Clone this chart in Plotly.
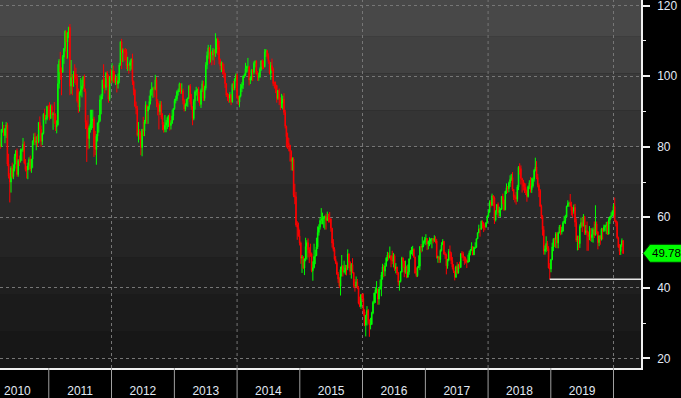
import pandas as pd
import plotly.graph_objects as go

# ---------------- data: weekly WTI crude OHLC ----------------
start_week = "2010-03-24"

opens = [
 # 2010
 80.7,80.0,84.9,84.9,83.2,85.1,86.2,75.1,71.6,70.0,74.0,71.5,73.8,77.2,78.9,72.1,76.1,76.0,79.0,79.0,80.7,75.4,73.5,73.4,74.6,76.4,73.7,76.5,81.6,82.7,81.2,81.7,81.4,86.9,84.9,81.5,83.8,89.2,87.8,88.0,91.5,
 # 2011
 91.4,88.0,91.5,89.1,89.3,89.0,85.6,86.2,97.9,104.4,101.2,101.1,105.4,107.9,112.8,109.7,112.3,113.9,97.2,99.7,99.5,100.6,100.2,99.3,93.0,91.2,95.4,96.2,97.2,99.9,95.7,86.9,85.4,82.3,85.4,86.5,87.2,87.9,79.9,79.2,83.0,86.8,87.4,93.3,94.3,98.9,97.7,96.8,100.9,99.4,93.5,99.7,
 # 2012
 98.8,101.6,98.7,98.5,99.6,97.8,98.7,103.2,109.8,106.7,107.4,107.1,106.9,103.0,103.3,103.0,103.9,104.9,98.5,96.1,91.5,90.9,83.2,84.1,84.0,79.8,85.0,84.5,87.1,91.8,90.1,91.4,92.9,96.0,96.2,96.5,96.4,99.0,92.9,92.2,89.9,91.9,88.3,86.3,84.9,86.1,86.9,88.3,88.9,86.0,86.7,88.7,90.8,
 # 2013
 93.1,93.6,95.6,95.9,97.8,95.7,95.9,93.1,90.7,92.0,93.5,93.7,97.2,92.7,91.3,88.0,93.0,95.6,96.0,96.0,94.2,92.0,96.0,97.9,93.7,96.6,103.2,105.9,108.1,104.7,106.9,106.0,107.5,106.4,107.7,110.5,108.2,104.7,102.9,103.8,102.0,100.8,97.9,94.6,94.6,93.8,94.8,92.7,97.7,96.6,99.3,100.3,
 # 2014
 94.0,92.7,94.4,96.6,97.5,100.1,100.3,102.2,102.6,102.6,98.9,99.5,101.7,101.1,103.7,104.3,100.6,99.8,100.0,102.0,104.4,102.7,102.7,106.9,107.3,105.7,104.1,100.8,103.1,102.1,97.9,97.7,97.4,93.7,96.0,93.3,92.3,92.4,93.5,89.7,85.8,82.8,81.0,80.5,78.7,75.8,76.5,66.2,65.8,57.8,57.1,54.7,
 # 2015
 52.7,48.4,48.7,45.6,48.2,51.7,52.8,50.8,49.8,49.6,44.8,45.7,48.9,49.1,51.6,55.7,57.2,59.1,59.4,59.7,59.7,60.3,59.1,60.0,59.6,59.6,56.9,52.7,50.9,48.1,47.1,43.9,42.5,40.5,45.2,46.1,44.6,44.7,45.7,45.5,49.6,47.3,44.6,46.6,44.3,40.7,40.4,41.7,40.0,35.6,34.7,38.1,
 # 2016
 37.0,33.2,29.4,32.2,33.6,30.9,29.4,29.6,32.8,35.9,38.5,39.4,39.5,36.8,39.7,40.4,43.7,45.9,44.7,46.2,48.4,49.3,48.6,49.1,47.9,47.6,49.0,45.4,45.9,44.2,41.6,41.8,44.5,48.5,47.6,44.4,45.9,43.0,44.5,48.2,50.4,50.4,50.9,48.7,44.1,43.4,45.7,46.1,51.7,51.5,51.9,53.0,
 # 2017
 53.7,54.0,52.4,53.2,53.2,53.8,53.9,53.4,54.0,53.3,48.5,48.8,48.0,50.6,52.2,53.2,49.6,49.3,46.2,47.8,50.3,49.8,47.7,45.8,44.7,43.0,46.0,44.2,46.5,45.8,49.7,49.6,48.8,48.5,47.9,47.3,47.5,49.9,50.7,51.7,49.3,51.5,51.5,53.9,55.6,56.7,56.6,58.9,58.4,57.4,57.3,58.5,
 # 2018
 60.4,61.4,64.3,63.4,66.1,65.5,59.2,61.7,63.6,61.3,62.0,62.3,65.9,64.9,62.1,67.4,68.4,68.1,69.7,70.7,71.3,67.9,65.8,65.7,65.1,68.6,74.2,73.8,71.0,70.5,68.7,68.5,67.6,65.9,68.7,69.8,67.8,68.9,70.8,73.3,74.3,71.3,69.1,67.6,63.1,60.2,56.5,50.4,50.9,52.6,51.2,45.6,45.3,
 # 2019
 48.0,51.6,53.8,53.7,55.3,52.7,55.6,57.3,55.8,56.1,58.5,59.0,60.1,63.1,63.9,64.0,63.3,61.9,61.7,62.8,58.6,53.5,54.0,52.5,57.4,58.5,57.5,60.2,55.6,56.2,55.7,54.5,54.9,54.2,55.1,56.5,54.9,58.1,55.9,52.8,54.7,53.8,56.7,56.2,57.2,57.7,57.8,55.2,59.2,60.1,60.4,61.7,
 # 2020
 63.1,59.0,58.5,54.2,51.6,50.3,52.1,53.4,
]

highs = [
 # 2010
 82.6,85.0,87.1,86.2,85.3,87.0,86.8,78.0,72.5,74.5,75.5,75.0,78.0,79.0,79.5,76.5,77.5,79.5,79.5,82.5,81.5,76.5,74.5,75.5,77.0,77.5,76.5,81.8,83.8,84.0,83.0,83.5,87.0,88.6,86.0,84.0,89.5,90.8,89.0,91.6,91.9,
 # 2011
 92.6,92.0,92.0,89.8,92.7,89.5,87.5,103.4,104.9,106.9,102.5,106.0,108.0,113.0,112.9,112.5,114.0,114.8,104.6,100.6,101.5,103.4,102.4,100.6,96.5,95.7,99.5,99.0,100.0,100.5,96.5,87.5,89.0,86.0,90.5,90.5,90.5,88.5,84.5,83.6,86.8,89.0,94.6,95.0,99.0,103.4,99.5,101.2,101.5,100.5,100.0,102.0,
 # 2012
 103.7,103.0,101.5,100.5,100.0,100.8,103.8,109.8,110.6,107.9,107.7,108.0,107.7,105.5,103.6,104.5,105.0,106.4,98.8,96.5,92.8,91.6,87.0,85.0,84.5,85.0,88.5,87.6,92.9,92.0,91.5,94.5,96.3,98.3,97.0,97.1,100.4,99.7,93.5,92.4,93.0,92.9,89.5,87.0,89.0,87.6,88.6,89.0,89.5,87.5,90.5,91.0,93.6,
 # 2013
 94.5,96.0,96.5,98.2,98.0,98.0,96.5,93.6,92.3,93.5,94.0,97.5,97.8,95.0,91.5,93.5,96.0,97.0,96.5,97.0,95.5,96.5,98.8,98.7,97.3,104.0,107.0,108.9,108.2,108.9,107.0,108.0,107.8,112.2,110.7,111.0,110.0,105.0,104.2,104.0,103.5,101.0,98.0,95.3,95.0,95.5,95.0,98.0,98.6,99.4,100.8,100.8,
 # 2014
 94.5,94.5,97.8,98.3,100.2,100.8,103.8,103.0,105.2,103.0,100.0,102.0,102.0,104.2,104.5,104.5,101.5,101.0,102.5,104.5,104.8,104.5,107.7,107.7,107.5,106.5,104.5,104.0,105.0,102.5,98.5,98.5,97.5,96.0,96.5,94.0,95.0,94.5,95.2,90.5,86.0,84.0,82.5,80.5,79.0,77.0,77.0,69.5,67.2,58.9,58.5,56.5,
 # 2015
 53.1,49.3,49.0,48.3,54.2,53.5,54.0,51.5,52.5,50.0,47.5,52.5,50.8,54.2,57.4,58.0,59.9,62.6,61.3,60.3,60.5,61.0,61.6,61.0,61.5,59.7,57.0,53.8,51.5,49.0,47.5,44.5,43.0,46.0,49.3,46.5,47.7,46.5,46.5,50.9,49.8,47.5,47.0,48.4,44.5,42.5,43.2,42.5,40.5,37.5,38.1,38.4,
 # 2016
 38.4,33.9,32.3,34.8,34.0,31.0,31.5,33.2,36.3,38.6,40.2,41.9,39.9,39.8,42.4,44.5,46.8,46.5,47.1,48.7,50.2,50.0,51.7,49.2,50.5,49.9,49.5,47.0,46.0,44.5,42.0,44.7,48.8,48.5,47.6,47.7,46.3,46.6,48.3,50.7,51.6,51.9,51.2,48.8,45.8,46.1,49.2,51.7,52.4,54.5,53.4,54.4,
 # 2017
 55.2,54.1,53.4,54.3,54.0,54.1,54.1,54.9,54.6,53.8,49.1,48.9,50.9,52.9,53.8,53.3,50.2,49.7,48.2,51.0,52.0,50.2,48.7,46.7,44.8,46.3,47.3,46.8,47.4,49.8,50.4,50.2,48.9,48.8,48.0,49.4,50.5,51.0,52.9,51.8,51.6,52.9,54.0,55.7,57.9,57.0,59.1,59.1,58.6,58.0,58.5,60.5,
 # 2018
 62.2,64.8,64.9,66.7,66.3,65.9,62.0,63.7,64.2,63.0,62.5,66.0,66.7,65.0,67.5,69.6,68.9,70.1,71.9,72.3,72.8,68.0,66.4,67.2,69.2,74.5,75.3,74.7,71.2,70.5,69.8,69.6,67.9,69.0,70.5,71.4,71.2,71.3,73.7,76.9,75.9,72.3,69.6,68.0,63.6,60.6,57.5,52.0,54.6,53.3,51.8,47.0,48.2,
 # 2019
 52.8,54.1,54.2,55.8,55.8,55.9,57.8,57.9,57.3,58.9,60.4,60.7,63.3,64.8,64.4,66.6,64.4,62.9,63.6,63.8,59.7,54.8,54.8,58.0,59.9,59.9,60.9,60.4,57.8,58.8,56.0,57.5,56.9,56.9,57.1,58.8,63.4,58.8,56.0,54.9,54.9,57.0,56.9,57.9,57.9,58.7,58.8,59.9,60.3,61.4,62.0,63.8,
 # 2020
 65.6,59.3,58.9,54.5,52.4,52.3,54.0,53.5,
]

lows = [
 # 2010
 79.4,80.0,84.0,83.0,81.0,82.5,74.5,71.0,64.2,67.0,71.0,70.8,73.0,75.0,71.5,71.5,74.5,75.5,76.0,78.5,75.0,73.0,71.0,70.8,73.5,73.0,72.6,74.0,80.5,80.5,79.0,80.0,81.0,85.0,80.0,80.5,83.5,87.5,86.5,87.5,88.5,
 # 2011
 87.5,88.0,88.0,84.8,86.5,84.5,83.8,86.0,96.5,99.0,94.6,101.0,103.5,107.0,104.9,105.0,110.8,94.6,95.0,94.6,97.0,98.0,97.5,92.5,89.6,90.0,94.5,94.0,96.5,95.5,85.0,75.7,79.2,79.5,84.0,84.8,85.3,77.1,77.6,74.9,81.5,84.0,87.0,89.2,93.5,96.5,95.1,96.0,97.0,92.5,93.0,98.0,
 # 2012
 98.0,98.2,98.0,97.5,95.4,96.5,98.0,103.0,102.0,104.0,104.2,104.5,102.0,101.5,100.7,101.5,101.9,97.5,94.6,91.4,89.2,82.9,81.2,82.0,77.6,77.3,83.0,83.0,86.5,86.4,86.5,90.5,92.0,94.5,93.9,94.0,96.0,91.2,88.9,84.9,89.0,87.8,84.7,84.0,84.1,84.1,85.0,85.6,84.6,84.9,86.5,87.5,90.5,
 # 2013
 92.3,93.0,94.5,95.5,95.0,95.0,92.0,90.0,90.1,91.5,91.3,93.5,92.0,90.5,86.1,87.5,90.5,94.5,93.0,92.5,91.5,91.0,95.5,93.0,93.0,96.0,102.0,105.0,103.5,103.9,103.1,104.5,103.2,105.5,106.5,106.0,103.4,101.8,101.2,100.5,99.5,96.7,94.1,93.0,92.5,92.5,91.8,92.5,96.0,96.0,98.5,93.5,
 # 2014
 91.8,91.2,94.0,95.5,96.4,99.5,100.0,101.0,101.3,97.4,97.8,98.8,98.6,100.5,102.5,100.5,98.7,98.7,99.5,101.5,101.9,102.0,102.5,105.5,105.0,103.5,100.5,99.0,101.5,97.2,96.5,95.2,92.5,93.3,91.8,90.4,91.0,90.6,89.0,85.2,79.8,79.4,78.7,75.8,73.3,73.2,65.7,63.7,57.3,53.6,54.5,52.0,
 # 2015
 46.8,44.2,45.3,43.6,47.5,48.0,48.6,47.0,48.8,44.4,42.0,45.5,46.7,49.0,51.0,54.8,56.5,58.0,58.0,57.0,56.5,56.5,59.0,58.5,58.5,55.9,51.4,50.3,47.7,46.7,43.6,41.4,39.9,37.8,43.2,43.2,44.1,43.7,43.5,45.0,45.6,43.6,42.6,44.1,40.0,38.9,40.2,39.6,35.3,34.5,34.0,36.1,
 # 2016
 32.1,29.1,26.2,29.3,29.8,26.1,28.2,29.5,32.5,35.5,35.7,38.4,35.2,35.2,39.5,37.6,42.3,43.0,43.3,46.0,47.5,47.8,48.3,45.8,46.7,45.8,44.8,44.1,43.6,40.6,39.2,41.5,44.3,45.7,43.0,44.0,42.7,42.9,43.7,48.1,49.5,49.1,48.5,44.1,43.0,43.1,45.6,45.0,50.0,50.3,51.5,52.5,
 # 2017
 52.1,50.7,50.9,51.8,52.3,51.2,52.6,53.0,52.6,48.3,47.1,47.0,47.1,50.3,52.2,49.4,48.2,43.8,45.4,47.5,48.2,46.7,45.2,44.2,42.1,42.8,43.8,44.0,45.4,45.6,48.4,47.6,46.5,46.9,45.6,47.0,47.3,49.2,50.5,49.3,49.3,51.0,51.3,53.8,55.5,54.5,56.5,56.8,55.8,56.3,57.0,58.3,
 # 2018
 60.1,61.3,62.8,63.2,63.1,58.1,58.8,60.7,60.0,60.2,60.1,62.1,63.7,61.8,62.0,66.6,66.9,67.1,68.6,70.3,67.4,64.9,64.2,63.6,64.4,67.7,72.1,69.3,67.0,67.6,66.9,66.3,64.4,65.6,68.0,67.0,66.9,68.4,70.1,73.0,70.8,68.5,65.7,62.9,59.5,54.8,49.4,49.4,50.1,50.4,45.5,42.4,44.4,
 # 2019
 47.8,50.4,51.6,51.3,51.2,51.2,55.4,54.9,55.1,55.9,58.2,58.1,60.0,62.9,63.0,63.0,60.5,60.0,61.0,57.3,53.0,50.6,50.7,51.3,57.0,55.8,57.4,55.0,55.0,50.5,50.5,53.5,53.2,53.0,52.8,54.1,54.9,55.2,50.9,51.8,52.2,53.4,53.7,55.8,56.0,55.2,55.0,55.2,58.1,59.6,60.2,60.6,
 # 2020
 58.7,57.4,53.9,51.3,49.3,49.3,51.6,49.6,
]

closes = [
 # 2010
 80.0,84.9,84.9,83.2,85.1,86.2,75.1,71.6,70.0,74.0,71.5,73.8,77.2,78.9,72.1,76.1,76.0,79.0,79.0,80.7,75.4,73.5,73.4,74.6,76.4,73.7,76.5,81.6,82.7,81.2,81.7,81.4,86.9,84.9,81.5,83.8,89.2,87.8,88.0,91.5,91.4,
 # 2011
 88.0,91.5,89.1,89.3,89.0,85.6,86.2,97.9,104.4,101.2,101.1,105.4,107.9,112.8,109.7,112.3,113.9,97.2,99.7,99.5,100.6,100.2,99.3,93.0,91.2,95.4,96.2,97.2,99.9,95.7,86.9,85.4,82.3,85.4,86.5,87.2,87.9,79.9,79.2,83.0,86.8,87.4,93.3,94.3,98.9,97.7,96.8,100.9,99.4,93.5,99.7,98.8,
 # 2012
 101.6,98.7,98.5,99.6,97.8,98.7,103.2,109.8,106.7,107.4,107.1,106.9,103.0,103.3,103.0,103.9,104.9,98.5,96.1,91.5,90.9,83.2,84.1,84.0,79.8,85.0,84.5,87.1,91.8,90.1,91.4,92.9,96.0,96.2,96.5,96.4,99.0,92.9,92.2,89.9,91.9,88.3,86.3,84.9,86.1,86.9,88.3,88.9,86.0,86.7,88.7,90.8,93.1,
 # 2013
 93.6,95.6,95.9,97.8,95.7,95.9,93.1,90.7,92.0,93.5,93.7,97.2,92.7,91.3,88.0,93.0,95.6,96.0,96.0,94.2,92.0,96.0,97.9,93.7,96.6,103.2,105.9,108.1,104.7,106.9,106.0,107.5,106.4,107.7,110.5,108.2,104.7,102.9,103.8,102.0,100.8,97.9,94.6,94.6,93.8,94.8,92.7,97.7,96.6,99.3,100.3,94.0,
 # 2014
 92.7,94.4,96.6,97.5,100.1,100.3,102.2,102.6,102.6,98.9,99.5,101.7,101.1,103.7,104.3,100.6,99.8,100.0,102.0,104.4,102.7,102.7,106.9,107.3,105.7,104.1,100.8,103.1,102.1,97.9,97.7,97.4,93.7,96.0,93.3,92.3,92.4,93.5,89.7,85.8,82.8,81.0,80.5,78.7,75.8,76.5,66.2,65.8,57.8,57.1,54.7,52.7,
 # 2015
 48.4,48.7,45.6,48.2,51.7,52.8,50.8,49.8,49.6,44.8,45.7,48.9,49.1,51.6,55.7,57.2,59.1,59.4,59.7,59.7,60.3,59.1,60.0,59.6,59.6,56.9,52.7,50.9,48.1,47.1,43.9,42.5,40.5,45.2,46.1,44.6,44.7,45.7,45.5,49.6,47.3,44.6,46.6,44.3,40.7,40.4,41.7,40.0,35.6,34.7,38.1,37.0,
 # 2016
 33.2,29.4,32.2,33.6,30.9,29.4,29.6,32.8,35.9,38.5,39.4,39.5,36.8,39.7,40.4,43.7,45.9,44.7,46.2,48.4,49.3,48.6,49.1,47.9,47.6,49.0,45.4,45.9,44.2,41.6,41.8,44.5,48.5,47.6,44.4,45.9,43.0,44.5,48.2,50.4,50.4,50.9,48.7,44.1,43.4,45.7,46.1,51.7,51.5,51.9,53.0,53.7,
 # 2017
 54.0,52.4,53.2,53.2,53.8,53.9,53.4,54.0,53.3,48.5,48.8,48.0,50.6,52.2,53.2,49.6,49.3,46.2,47.8,50.3,49.8,47.7,45.8,44.7,43.0,46.0,44.2,46.5,45.8,49.7,49.6,48.8,48.5,47.9,47.3,47.5,49.9,50.7,51.7,49.3,51.5,51.5,53.9,55.6,56.7,56.6,58.9,58.4,57.4,57.3,58.5,60.4,
 # 2018
 61.4,64.3,63.4,66.1,65.5,59.2,61.7,63.6,61.3,62.0,62.3,65.9,64.9,62.1,67.4,68.4,68.1,69.7,70.7,71.3,67.9,65.8,65.7,65.1,68.6,74.2,73.8,71.0,70.5,68.7,68.5,67.6,65.9,68.7,69.8,67.8,68.9,70.8,73.3,74.3,71.3,69.1,67.6,63.1,60.2,56.5,50.4,50.9,52.6,51.2,45.6,45.3,48.0,
 # 2019
 51.6,53.8,53.7,55.3,52.7,55.6,57.3,55.8,56.1,58.5,59.0,60.1,63.1,63.9,64.0,63.3,61.9,61.7,62.8,58.6,53.5,54.0,52.5,57.4,58.5,57.5,60.2,55.6,56.2,55.7,54.5,54.9,54.2,55.1,56.5,54.9,58.1,55.9,52.8,54.7,53.8,56.7,56.2,57.2,57.7,57.8,55.2,59.2,60.1,60.4,61.7,63.1,
 # 2020
 59.0,58.5,54.2,51.6,50.3,52.1,53.4,49.78,
]

year_starts = ["2011-01-01", "2012-01-01", "2013-01-01", "2014-01-01", "2015-01-01",
               "2016-01-01", "2017-01-01", "2018-01-01", "2019-01-01", "2020-01-01"]
grid_years = ["2012-01-01", "2014-01-01", "2016-01-01", "2018-01-01", "2020-01-01"]
x_range = ["2010-03-23", "2020-06-09"]
y_range = [17.25, 121.62]
support_from = "2018-06-01"   # look for the support low after this date

# ---------------- figure ----------------
dates = pd.date_range(start_week, periods=len(closes), freq="7D")
df = pd.DataFrame({"d": dates, "o": opens, "h": highs, "l": lows, "c": closes})

fig = go.Figure(go.Candlestick(
    x=df["d"], open=df["o"], high=df["h"], low=df["l"], close=df["c"],
    increasing=dict(line=dict(color="#00ff00", width=1), fillcolor="#00ff00"),
    decreasing=dict(line=dict(color="#ff0000", width=1), fillcolor="#ff0000"),
    whiskerwidth=0, hoverinfo="skip", showlegend=False,
))

shapes = []
# background gradient bands (top -> bottom)
band_colors = ["#484848", "#414141", "#3a3a3a", "#343434", "#2e2e2e",
               "#292929", "#242424", "#1f1f1f", "#1b1b1b", "#171717"]
n = len(band_colors)
for i, col in enumerate(band_colors):
    shapes.append(dict(type="rect", xref="paper", yref="paper", x0=0, x1=1,
                       y0=1 - (i + 1) / n, y1=1 - i / n, fillcolor=col,
                       line=dict(width=0), layer="below"))
# vertical dashed grid lines every two years
for g in grid_years:
    shapes.append(dict(type="line", xref="x", yref="paper", x0=g, x1=g, y0=0, y1=1,
                       line=dict(color="#767676", width=1, dash="3px,3px"), layer="below"))
# year separators below the plot
for ys in year_starts:
    shapes.append(dict(type="line", xref="x", yref="paper", x0=ys, x1=ys, y0=0, y1=-30 / 368,
                       line=dict(color="#a0a0a0", width=1)))
# support line from the late-2018 low
sub = df[df["d"] >= support_from]
imin = sub["l"].idxmin()
shapes.append(dict(type="line", xref="x", yref="y", x0=df.loc[imin, "d"], x1=x_range[1],
                   y0=df.loc[imin, "l"], y1=df.loc[imin, "l"],
                   line=dict(color="#e6e6e6", width=1.5)))
# last price tag
last = closes[-1]
hh = 2.55
shapes.append(dict(type="path", xref="paper", yref="y",
                   path=f"M 1.0031,{last} L 1.0140,{last + hh} L 1.08,{last + hh} "
                        f"L 1.08,{last - hh} L 1.0140,{last - hh} Z",
                   fillcolor="#00ff00", line=dict(color="#003300", width=1)))

fig.update_layout(
    width=681, height=398,
    margin=dict(l=0, r=40, t=0, b=30, autoexpand=False),
    paper_bgcolor="#000000", plot_bgcolor="#1b1b1b",
    shapes=shapes,
    annotations=[dict(xref="paper", yref="y", x=1.0135, y=last, xanchor="left",
                      yanchor="middle", text=f"{last:.2f}", showarrow=False,
                      font=dict(family="Liberation Sans, Arial", size=11.5, color="#000000"))],
    font=dict(family="Liberation Sans, Arial", size=12, color="#e2eaf4"),
    xaxis=dict(type="date", range=x_range, rangeslider=dict(visible=False),
               showgrid=False, zeroline=False, showline=True, linecolor="#f0f0f0",
               linewidth=1.5, ticks="", dtick="M12", tick0="2010-01-01",
               tickformat="%Y", ticklabelmode="period", ticklabelstandoff=11,
               tickfont=dict(size=12, color="#e2eaf4")),
    yaxis=dict(side="right", range=y_range, dtick=20, tick0=0,
               showgrid=True, gridcolor="#767676", griddash="3px,3px", gridwidth=1,
               zeroline=False, showline=True, linecolor="#f0f0f0", linewidth=1.5,
               ticks="outside", ticklen=7, tickwidth=2, tickcolor="#f0f0f0",
               ticklabeloverflow="allow", ticklabelstandoff=5,
               minor=dict(dtick=10, tick0=0, ticks="outside", ticklen=3,
                          tickcolor="#f0f0f0", tickwidth=1, showgrid=False),
               tickfont=dict(size=12, color="#e2eaf4")),
)

fig.write_html("out.html")
